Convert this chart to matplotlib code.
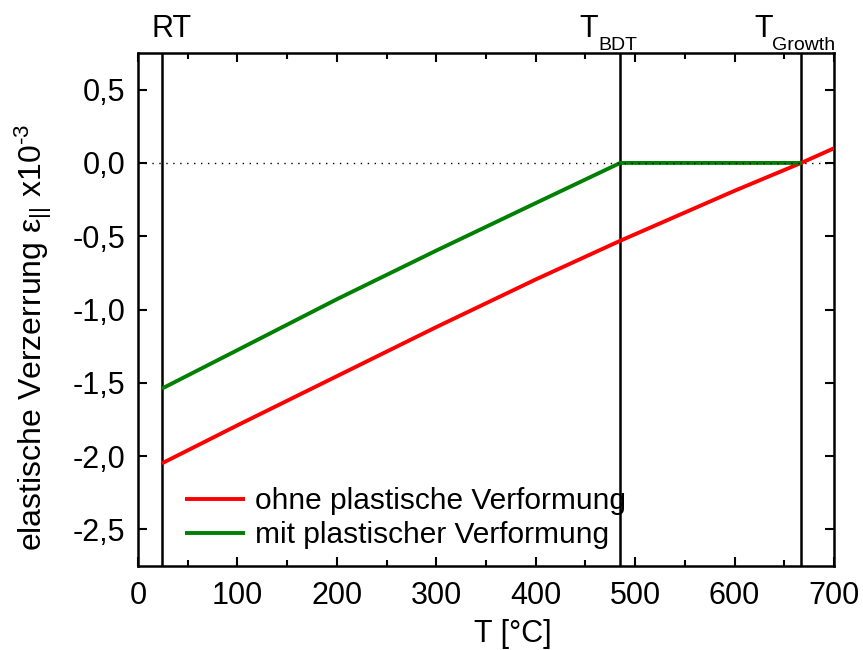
import matplotlib
matplotlib.use("Agg")
import matplotlib.pyplot as plt
from matplotlib.ticker import MultipleLocator, FuncFormatter

plt.rcParams['font.family'] = ['Liberation Sans', 'DejaVu Sans']
plt.rcParams['mathtext.fontset'] = 'custom'
plt.rcParams['mathtext.rm'] = 'Liberation Sans'
plt.rcParams['mathtext.it'] = 'Liberation Sans:italic'
plt.rcParams['axes.unicode_minus'] = False

# Characteristic temperatures (°C)
T_RT = 24
T_BDT = 485
T_GROWTH = 667

# Strain without plastic relaxation (x1e-3)
T_ohne = [24, 100, 200, 300, 400, 485, 600, 667, 700]
eps_ohne = [-2.05, -1.79, -1.455, -1.12, -0.795, -0.531, -0.19, 0.0, 0.10]

# Strain with plastic relaxation above the brittle-ductile transition
T_mit = [24, 100, 200, 300, 400, 485, 667]
eps_mit = [-1.54, -1.277, -0.93, -0.598, -0.274, 0.0, 0.0]

x_ticks = [0, 100, 200, 300, 400, 500, 600, 700]
y_ticks = [-2.5, -2.0, -1.5, -1.0, -0.5, 0.0, 0.5]

W, H = 863, 650
fig = plt.figure(figsize=(W / 100, H / 100), dpi=100)
ax = fig.add_axes([138 / W, 1 - 566 / H, 696 / W, 513 / H])

ax.plot(T_ohne, eps_ohne, color='#ff0000', lw=2.8, solid_capstyle='butt',
        label='ohne plastische Verformung', zorder=3)
ax.plot(T_mit, eps_mit, color='#008000', lw=2.8, solid_capstyle='butt',
        label='mit plastischer Verformung', zorder=3)

ax.axhline(0, color='black', lw=1.0, linestyle=(0, (1, 4)), zorder=4)
for t in (T_RT, T_BDT, T_GROWTH):
    ax.axvline(t, color='black', lw=1.8, zorder=2)

ax.set_xlim(0, 700)
ax.set_ylim(-2.75, 0.75)
ax.set_xticks(x_ticks)
ax.set_yticks(y_ticks)
ax.xaxis.set_minor_locator(MultipleLocator(50))
ax.yaxis.set_major_formatter(FuncFormatter(lambda v, p: f"{v:.1f}".replace('.', ',')))

ax.tick_params(which='both', direction='in', top=True, right=True, width=1.5,
               labelsize=22)
ax.tick_params(axis='x', pad=11)
ax.tick_params(axis='y', pad=9)
ax.tick_params(which='major', length=6.5)
ax.tick_params(which='minor', length=4)
for s in ax.spines.values():
    s.set_linewidth(1.8)

ax.set_xlabel('T [°C]', fontsize=22)
ax.xaxis.set_label_coords(0.539, -0.103)
ax.set_ylabel('elastische Verzerrung ε$_{||}$ x10$^{\\text{-3}}$', fontsize=23)
ax.yaxis.set_label_coords(-0.121, 0.446)

# Labels of the characteristic temperatures above the frame
def fig_text(x, y, s, size):
    fig.text(x / W, 1 - y / H, s, fontsize=size, ha='left', va='baseline')

fig_text(151, 37, 'RT', 22)
fig_text(579, 37, 'T', 22)
fig_text(598, 50, 'BDT', 14)
fig_text(754, 37, 'T', 22)
fig_text(772, 50, 'Growth', 14)

ax.legend(loc='lower left', bbox_to_anchor=(0.029, -0.02), frameon=False, fontsize=21.5,
          handlelength=2.0, handletextpad=0.35, labelspacing=0.2)

fig.savefig('out.png', dpi=100)
